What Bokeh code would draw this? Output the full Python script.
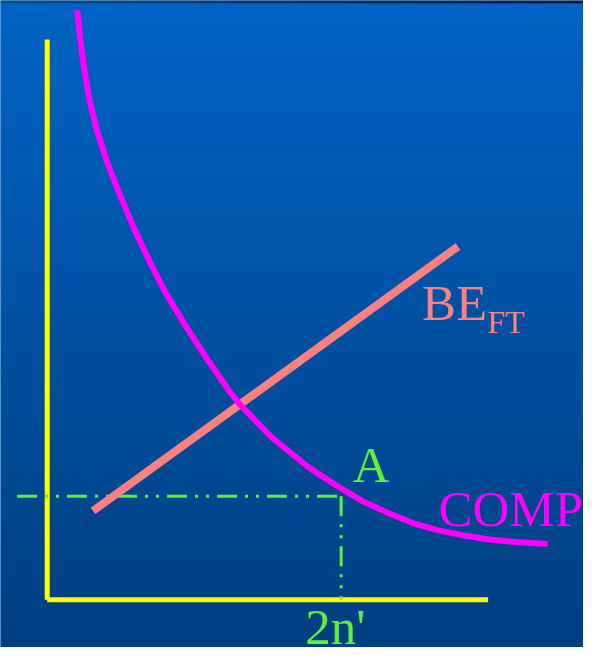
import numpy as np
from bokeh.plotting import figure
from bokeh.models import Range1d
from bokeh.core.properties import value
from bokeh.embed import file_html
from bokeh.resources import INLINE

# Conceptual diagram data (origin at the axes corner, y upward)
comp_x = [31, 34, 38, 43, 51, 62, 75, 89, 105, 122, 142, 164, 187, 197, 230, 268, 297,
          324, 352, 377, 402, 427, 452, 482, 514]
comp_y = [604, 574, 544, 514, 481, 447, 414, 381, 347, 314, 281, 247, 214, 201, 167, 136, 117,
          101, 88, 78, 71, 66, 62, 59, 57]

be_x = [47, 422]
be_y = [91, 362]

axis_v_x = [0, 0]
axis_v_y = [574, 0]
axis_h_x = [0, 453]
axis_h_y = [0, 0]

ref_h_x = [-31, 302]
ref_h_y = [106, 106]
ref_v_x = [302, 302]
ref_v_y = [106, 0]

labels = ["BE", "FT", "A", "COMP", "2n'"]

W, H = 583, 647
X0, X1 = -48, 551
Y0, Y1 = -49, 614
p = figure(width=W, height=H, output_backend="svg", toolbar_location=None,
           x_range=Range1d(X0, X1), y_range=Range1d(Y0, Y1),
           x_axis_location=None, y_axis_location=None, min_border=0)
p.grid.visible = False
p.outline_line_color = None
p.background_fill_color = "#0052a4"
p.border_fill_color = "#0052a4"

def rgba_image(cols):
    h, w = cols.shape[:2]
    img = np.zeros((h, w), dtype=np.uint32)
    view = img.view(dtype=np.uint8).reshape((h, w, 4))
    view[:, :, 0] = cols[:, :, 0].astype(np.uint8)
    view[:, :, 1] = cols[:, :, 1].astype(np.uint8)
    view[:, :, 2] = cols[:, :, 2].astype(np.uint8)
    view[:, :, 3] = 255
    return img

# vertical gradient background (reference pixel space 0..663, top to bottom)
top = np.array([0x00, 0x63, 0xc5], dtype=float)
bot = np.array([0x00, 0x3f, 0x80], dtype=float)
N = 663
rows = np.arange(N)
ref_y = N - rows - 0.5
t = np.clip((ref_y - 3) / 660.0, 0, 1)[:, None, None]
cols = top[None, None, :] * (1 - t) + bot[None, None, :] * t
p.image_rgba(image=[rgba_image(cols)], x=X0, y=Y0, dw=X1 - X0, dh=Y1 - Y0)

# thin dark band at the very top (horizontal gradient)
left = np.array([0x10, 0x4c, 0x8a], dtype=float)
right = np.array([0x06, 0x18, 0x30], dtype=float)
s = np.linspace(0, 1, 64)[None, :, None]
band = left[None, None, :] * (1 - s) + right[None, None, :] * s
p.image_rgba(image=[rgba_image(band)], x=X0, y=Y1 - 3, dw=X1 - X0, dh=3)

yellow = "#ffff00"
green = "#5ef03a"
salmon = "#ff8080"
magenta = "#ff00ff"

p.line(axis_v_x, axis_v_y, line_color=yellow, line_width=5)
p.line(axis_h_x, axis_h_y, line_color=yellow, line_width=5)

p.line(ref_h_x, ref_h_y, line_color=green, line_width=3, line_dash="20 8 3 8 3 8")
p.line(ref_v_x, ref_v_y, line_color=green, line_width=3, line_dash="20 8 3 8 3 8")

p.line(be_x, be_y, line_color=salmon, line_width=8)
p.line(comp_x, comp_y, line_color=magenta, line_width=6, line_join="round")

serif = value("Liberation Serif")
big = "51px"
p.text(x=[385], y=[304], text=[labels[0]], text_font=serif, text_font_size=big,
       text_color=salmon, text_baseline="alphabetic", text_align="left")
p.text(x=[452], y=[285], text=[labels[1]], text_font=serif, text_font_size="32px",
       text_color=salmon, text_baseline="alphabetic", text_align="left")
p.text(x=[314], y=[138], text=[labels[2]], text_font=serif, text_font_size=big,
       text_color=green, text_baseline="alphabetic", text_align="left")
p.text(x=[402], y=[93], text=[labels[3]], text_font=serif, text_font_size=big,
       text_color=magenta, text_baseline="alphabetic", text_align="left")
p.text(x=[265], y=[-28], text=[labels[4]], text_font=serif, text_font_size=big,
       text_color=green, text_baseline="alphabetic", text_align="left")

open("out.html", "w").write(file_html(p, INLINE))
